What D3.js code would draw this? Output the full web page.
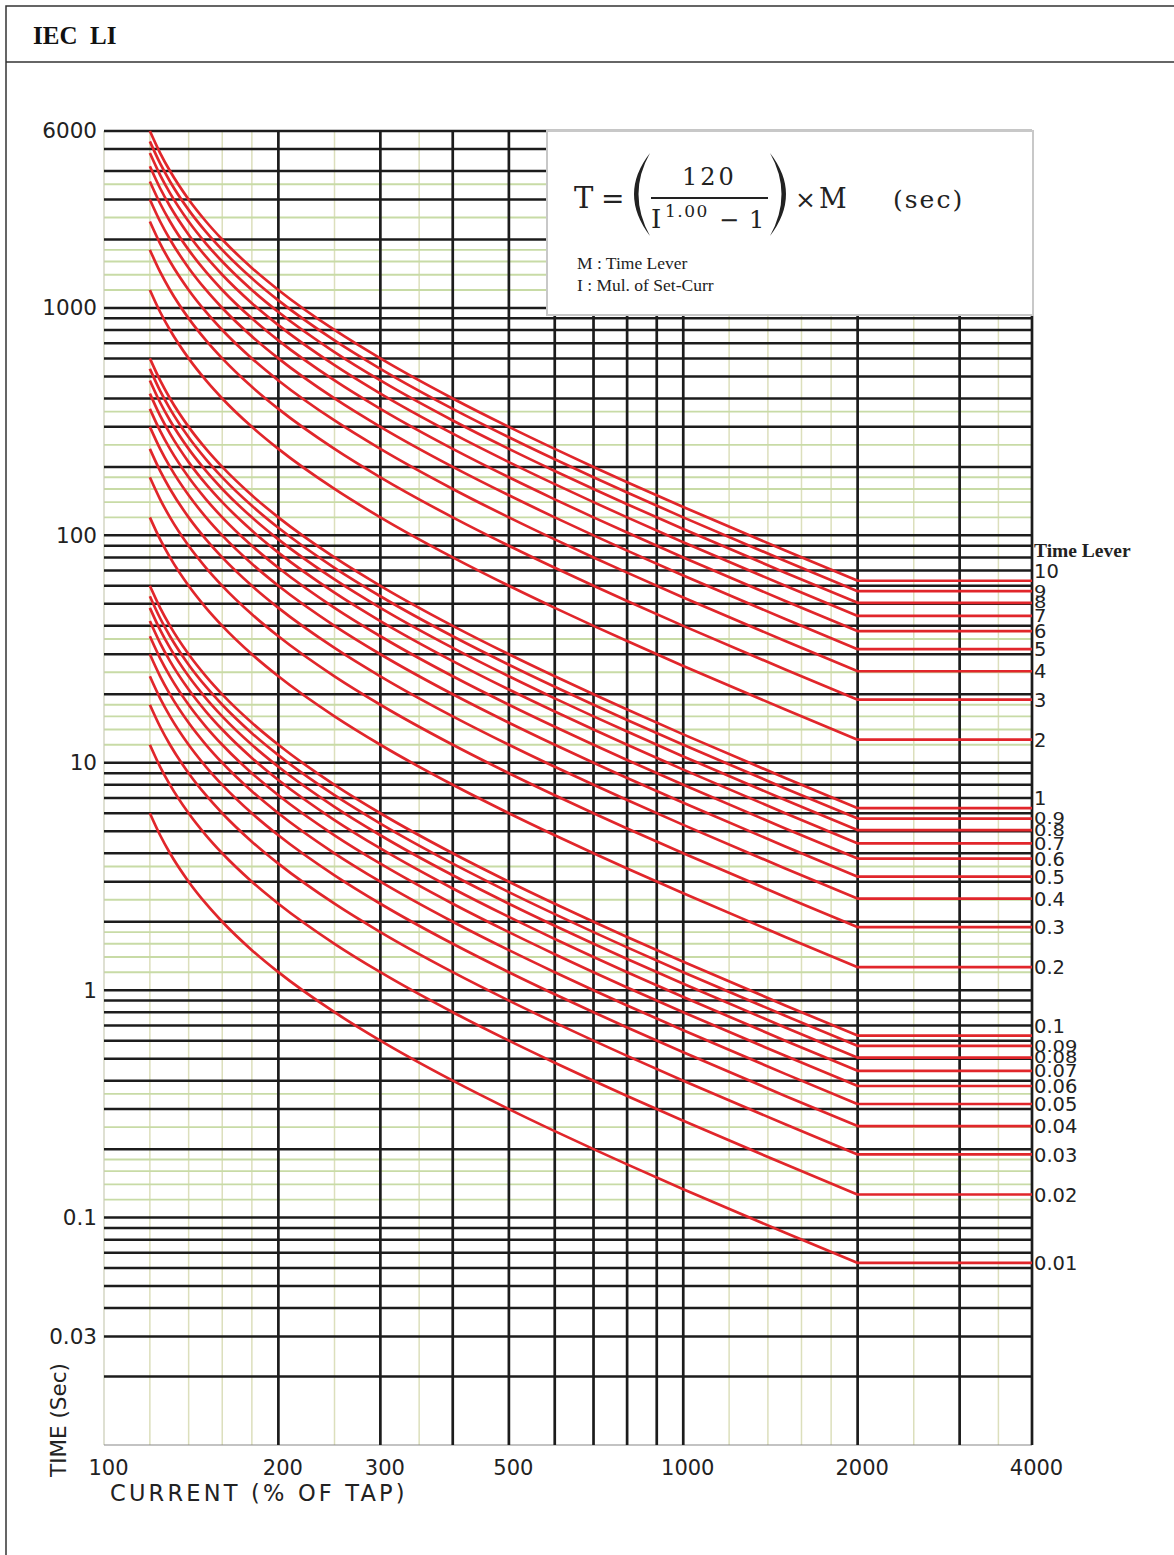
<!DOCTYPE html>
<html><head><meta charset="utf-8">
<script src="https://cdn.jsdelivr.net/npm/d3@7"></script>
<style>body{margin:0;background:#fff}svg{display:block}</style>
</head><body>
<svg id="chart" width="1174" height="1555"></svg>
<script>
// ---------------- data ----------------
const chartTitle = "IEC  LI";
// time lever (multiplier) for every curve
const timeLevers = [10,9,8,7,6,5,4,3,2,1,0.9,0.8,0.7,0.6,0.5,0.4,0.3,0.2,0.1,0.09,0.08,0.07,0.06,0.05,0.04,0.03,0.02,0.01];
const leverLabels = ["10","9","8","7","6","5","4","3","2","1","0.9","0.8","0.7","0.6","0.5","0.4","0.3","0.2","0.1","0.09","0.08","0.07","0.06","0.05","0.04","0.03","0.02","0.01"];
// current (% of tap) sample points and operating time for time lever 1 (sec)
const currents  = [120,125,130,140,150,160,180,200,250,300,400,500,600,700,800,1000,1500,2000];
const baseTimes = [600,480,400,300,240,200,150,120,80,60,40,30,24,20,17.14,13.33,8.571,6.316];
const flatEndCurrent = 4000;
// axes
const xTickValues = [100,200,300,500,1000,2000,4000];
const xTickLabels = ["100","200","300","500","1000","2000","4000"];
const yTickValues = [6000,1000,100,10,1,0.1,0.03];
const yTickLabels = ["6000","1000","100","10","1","0.1","0.03"];
// grid
const xGridMajor = [200,300,400,500,600,700,800,900,1000,2000,3000,4000];
const xGridMinor = [120,140,160,180,250,350,1200,1400,1600,1800,2500,3500];
const yMajorMultipliers = [1,2,3,4,5,6,7,8,9];
const yMinorMultipliers = [1.2,1.4,1.6,1.8,2.5,3.5];
const yDecades = [0.01,0.1,1,10,100,1000];
const yMinorDecades = [0.1,1,10,100,1000];

// ---------------- drawing ----------------
const svg = d3.select("#chart");
const x = d3.scaleLog().domain([100,4000]).range([104,1032]);
const y = d3.scaleLog().domain([0.01,6000]).range([1445,131]);

// outer frame
svg.append("rect").attr("x",6).attr("y",6).attr("width",1190).attr("height",1570)
  .attr("fill","none").attr("stroke","#333").attr("stroke-width",1.5);
svg.append("line").attr("x1",6).attr("x2",1174).attr("y1",62).attr("y2",62)
  .attr("stroke","#333").attr("stroke-width",1.5);
svg.append("text").attr("x",33).attr("y",44).attr("xml:space","preserve")
  .attr("font-family","'Liberation Serif', serif").attr("font-weight","bold")
  .attr("font-size",25).attr("fill","#111").text(chartTitle);

const grid = svg.append("g");
// vertical minor grid
grid.selectAll(".vmin").data(xGridMinor).join("line")
  .attr("x1",d=>x(d)).attr("x2",d=>x(d)).attr("y1",y(6000)).attr("y2",y(0.01))
  .attr("stroke","#dcdfbc").attr("stroke-width",1.5);
// horizontal minor grid
const yMinor = [];
yMinorDecades.forEach(dc => yMinorMultipliers.forEach(m => { const v = +(m*dc).toPrecision(3); if (v < 6000) yMinor.push(v); }));
grid.selectAll(".hmin").data(yMinor).join("line")
  .attr("x1",x(100)).attr("x2",x(4000)).attr("y1",d=>y(d)).attr("y2",d=>y(d))
  .attr("stroke","#c8dba6").attr("stroke-width",1.9);
// left & bottom border
grid.append("line").attr("x1",x(100)).attr("x2",x(100)).attr("y1",y(6000)).attr("y2",y(0.01))
  .attr("stroke","#c9ccb4").attr("stroke-width",1.2);
grid.append("line").attr("x1",x(100)).attr("x2",x(4000)).attr("y1",y(0.01)).attr("y2",y(0.01))
  .attr("stroke","#888").attr("stroke-width",1.2);
// horizontal major grid
const yMajor = [];
yDecades.forEach(dc => yMajorMultipliers.forEach(m => { const v = +(m*dc).toPrecision(3); if (v > 0.01 && v <= 6000) yMajor.push(v); }));
grid.selectAll(".hmaj").data(yMajor).join("line")
  .attr("x1",x(100)).attr("x2",x(4000)).attr("y1",d=>y(d)).attr("y2",d=>y(d))
  .attr("stroke","#1c1c1c").attr("stroke-width",2.5);
// vertical major grid
grid.selectAll(".vmaj").data(xGridMajor).join("line")
  .attr("x1",d=>x(d)).attr("x2",d=>x(d)).attr("y1",y(6000)-1).attr("y2",y(0.01))
  .attr("stroke","#1c1c1c").attr("stroke-width",2.7);

// curves
const line = d3.line().x(d=>x(d[0])).y(d=>y(d[1])).curve(d3.curveMonotoneX);
const curves = svg.append("g").attr("fill","none").attr("stroke","#e1262b").attr("stroke-width",2.7);
timeLevers.forEach((m,i) => {
  const pts = currents.map((c,j) => [c, baseTimes[j]*m]);
  const last = pts[pts.length-1];
  curves.append("path").attr("d", line(pts) + "L" + x(flatEndCurrent) + "," + y(last[1]));
});

// right labels
svg.append("text").attr("x",1034).attr("y",557)
  .attr("font-family","'Liberation Serif', serif").attr("font-weight","bold")
  .attr("font-size",19.5).attr("fill","#222").text("Time Lever");
const lab = svg.append("g").attr("font-family","'DejaVu Sans', Verdana, sans-serif")
  .attr("font-size",19.5).attr("fill","#222");
const labelY = timeLevers.map(m => {
  const t = baseTimes[baseTimes.length-1]*m;
  return y(t) + ((m===10||m===1||m===0.1) ? -10 : 0);
});
timeLevers.forEach((m,i) => {
  const gaps = [];
  if (i > 0) gaps.push(Math.abs(labelY[i]-labelY[i-1]));
  if (i < labelY.length-1) gaps.push(Math.abs(labelY[i+1]-labelY[i]));
  const sy = Math.max(0.68, Math.min(1, d3.min(gaps)/14.5));
  lab.append("text").attr("transform",`translate(1034,${labelY[i]}) scale(1,${sy})`)
    .attr("dy","0.36em").text(leverLabels[i]);
});

// axes
const yAxis = svg.append("g").attr("transform","translate(104,0)")
  .call(d3.axisLeft(y).tickValues(yTickValues).tickSize(0).tickPadding(7)
    .tickFormat((d,i)=>yTickLabels[i]));
yAxis.select(".domain").remove();
yAxis.selectAll("text").attr("font-family","'DejaVu Sans', Verdana, sans-serif")
  .attr("font-size",21.5).attr("fill","#222");

const xAxis = svg.append("g").attr("transform","translate(0,1445)")
  .call(d3.axisBottom(x).tickValues(xTickValues).tickSize(0).tickPadding(15)
    .tickFormat((d,i)=>xTickLabels[i]));
xAxis.select(".domain").remove();
xAxis.selectAll("text").attr("font-family","'DejaVu Sans', Verdana, sans-serif")
  .attr("font-size",21).attr("fill","#222").attr("dx",4);

svg.append("text").attr("x",110).attr("y",1501)
  .attr("font-family","'DejaVu Sans', Verdana, sans-serif").attr("font-size",22.5)
  .attr("letter-spacing",3.2).attr("fill","#222").text("CURRENT (% OF TAP)");
svg.append("text").attr("transform","translate(66,1477) rotate(-90)")
  .attr("font-family","'DejaVu Sans', Verdana, sans-serif").attr("font-size",21.5)
  .attr("fill","#222").text("TIME (Sec)");

// formula box
const box = svg.append("g");
box.append("rect").attr("x",547).attr("y",131).attr("width",486).attr("height",184)
  .attr("fill","#fff").attr("stroke","#c8c8c8").attr("stroke-width",2);
const ff = "'DejaVu Serif', 'Liberation Serif', serif";
const ft = (tx,ty,s,fs,extra) => { const t = box.append("text").attr("x",tx).attr("y",ty)
  .attr("font-family",ff).attr("font-size",fs).attr("fill","#222").text(s);
  if (extra) extra(t); return t; };
ft(574,208,"T",29);
ft(601,208,"=",28);
ft(682,185,"120",24,t=>t.attr("letter-spacing",3));
box.append("line").attr("x1",651).attr("x2",768).attr("y1",198).attr("y2",198)
  .attr("stroke","#222").attr("stroke-width",1.8);
ft(651,228,"I",26);
ft(665,217,"1.00",17,t=>t.attr("letter-spacing",1.5));
ft(719,228,"\u2212",24);
ft(749,228,"1",24);
box.append("path").attr("d","M650,153 Q618,194 650,236 Q627,194 650,153Z").attr("fill","#222");
box.append("path").attr("d","M770,153 Q802,194 770,236 Q793,194 770,153Z").attr("fill","#222");
ft(795,208,"\u00d7",25);
ft(819,208,"M",27);
ft(893,208,"(sec)",25,t=>t.attr("letter-spacing",2));
box.append("text").attr("x",577).attr("y",269).attr("font-family","'Liberation Serif', serif")
  .attr("font-size",17.5).attr("fill","#222").text("M : Time Lever");
box.append("text").attr("x",577).attr("y",291).attr("font-family","'Liberation Serif', serif")
  .attr("font-size",17.5).attr("fill","#222").text("I : Mul. of Set-Curr");
</script>
</body></html>
